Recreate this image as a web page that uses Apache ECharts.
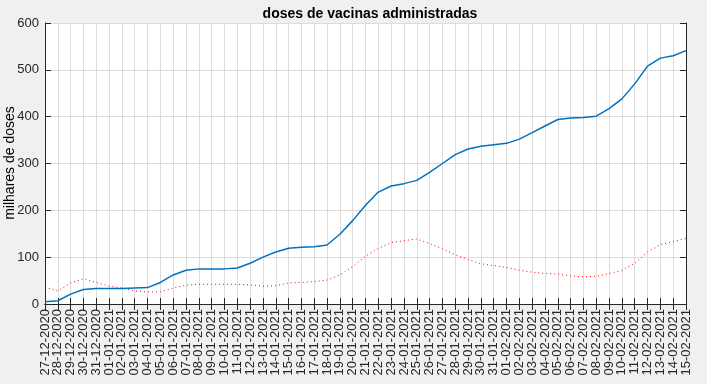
<!DOCTYPE html>
<html>
<head>
<meta charset="utf-8">
<script src="https://cdn.jsdelivr.net/npm/echarts@6/dist/echarts.min.js"></script>
<style>
  html, body { margin: 0; padding: 0; background: #f0f0f0; }
  #chart { width: 707px; height: 384px; }
</style>
</head>
<body>
<div id="chart"></div>
<script>
// datas (dd-mm-aaaa)
const dias = [
  '27-12-2020', '28-12-2020', '29-12-2020', '30-12-2020', '31-12-2020',
  '01-01-2021', '02-01-2021', '03-01-2021', '04-01-2021', '05-01-2021',
  '06-01-2021', '07-01-2021', '08-01-2021', '09-01-2021', '10-01-2021',
  '11-01-2021', '12-01-2021', '13-01-2021', '14-01-2021', '15-01-2021',
  '16-01-2021', '17-01-2021', '18-01-2021', '19-01-2021', '20-01-2021',
  '21-01-2021', '22-01-2021', '23-01-2021', '24-01-2021', '25-01-2021',
  '26-01-2021', '27-01-2021', '28-01-2021', '29-01-2021', '30-01-2021',
  '31-01-2021', '01-02-2021', '02-02-2021', '03-02-2021', '04-02-2021',
  '05-02-2021', '06-02-2021', '07-02-2021', '08-02-2021', '09-02-2021',
  '10-02-2021', '11-02-2021', '12-02-2021', '13-02-2021', '14-02-2021',
  '15-02-2021'
]

// total acumulado (milhares)
const dosesTotal = [
  5, 7, 21, 31, 33, 33, 33, 34, 35, 46,
  62, 72, 75, 75, 75, 77, 87, 100, 111, 119,
  121, 122, 126, 149, 178, 211, 239, 252, 257, 264,
  281, 300, 319, 331, 337, 340, 343, 352, 366, 380,
  394, 397, 398, 401, 417, 438, 470, 508, 525, 530,
  541
]

// curva pontilhada (milhares)
const dosesRecentes = [
  36, 28, 45, 54, 46, 38, 34, 28, 26, 26,
  34, 40, 42, 42, 42, 42, 41, 38, 39, 45,
  46, 48, 51, 62, 80, 102, 119, 131, 135, 139,
  129, 118, 105, 95, 86, 82, 78, 72, 68, 65,
  64, 60, 58, 59, 65, 72, 87, 111, 127, 133,
  140
]

const yTicks = { min: 0, max: 600, interval: 100 }

const chart = echarts.init(document.getElementById('chart'))
const fonte = '"Liberation Sans", Arial, Helvetica, sans-serif'
const corEixo = '#262626'

const option = {
  backgroundColor: '#f0f0f0',
  animation: false,
  textStyle: { fontFamily: fonte },
  title: {
    text: 'doses de vacinas administradas',
    left: 365,
    textAlign: 'center',
    top: 2,
    textStyle: { fontSize: 14, fontWeight: 'bold', color: '#000', fontFamily: fonte }
  },
  // rotulo do eixo y
  graphic: [
    {
      type: 'text',
      x: 10,
      y: 163,
      rotation: Math.PI / 2,
      style: {
        text: 'milhares de doses',
        font: '14px ' + fonte,
        fill: '#000',
        align: 'center',
        verticalAlign: 'middle'
      }
    }
  ],
  grid: {
    left: 45,
    right: 21,
    top: 23,
    bottom: 80,
    outerBoundsMode: 'none',
    containLabel: false,
    show: true,
    backgroundColor: '#fff',
    borderWidth: 0
  },
  xAxis: [
    {
      type: 'category',
      data: dias,
      boundaryGap: false,
      position: 'bottom',
      axisLine: { lineStyle: { color: corEixo, width: 1 } },
      axisTick: { inside: true, length: 6, interval: 0, lineStyle: { color: corEixo } },
      axisLabel: {
        interval: 0,
        rotate: 90,
        margin: 5,
        fontSize: 13,
        color: corEixo,
        fontFamily: fonte
      },
      splitLine: { show: true, interval: 0, lineStyle: { color: '#dcdcdc', width: 1 } }
    },
    {
      type: 'category',
      data: dias,
      boundaryGap: false,
      position: 'top',
      axisLine: { lineStyle: { color: corEixo, width: 1 } },
      axisTick: { inside: true, length: 6, interval: 0, lineStyle: { color: corEixo } },
      axisLabel: { show: false },
      splitLine: { show: false }
    }
  ],
  yAxis: [
    {
      type: 'value',
      min: yTicks.min,
      max: yTicks.max,
      interval: yTicks.interval,
      position: 'left',
      axisLine: { show: true, lineStyle: { color: corEixo, width: 1 } },
      axisTick: { show: true, inside: true, length: 6, lineStyle: { color: corEixo } },
      axisLabel: { fontSize: 13, color: corEixo, margin: 6, fontFamily: fonte },
      splitLine: { show: true, lineStyle: { color: '#dcdcdc', width: 1 } }
    },
    {
      type: 'value',
      min: yTicks.min,
      max: yTicks.max,
      interval: yTicks.interval,
      position: 'right',
      axisLine: { show: true, lineStyle: { color: corEixo, width: 1 } },
      axisTick: { show: true, inside: true, length: 6, lineStyle: { color: corEixo } },
      axisLabel: { show: false },
      splitLine: { show: false }
    }
  ],
  series: [
    {
      name: 'total',
      type: 'line',
      data: dosesTotal,
      showSymbol: false,
      lineStyle: { color: '#0072bd', width: 1.5 },
      z: 3
    },
    {
      name: 'recentes',
      type: 'line',
      data: dosesRecentes,
      showSymbol: false,
      lineStyle: { color: '#ff0000', width: 1, type: [1, 3] },
      z: 2
    }
  ]
}

chart.setOption(option)
</script>
</body>
</html>
